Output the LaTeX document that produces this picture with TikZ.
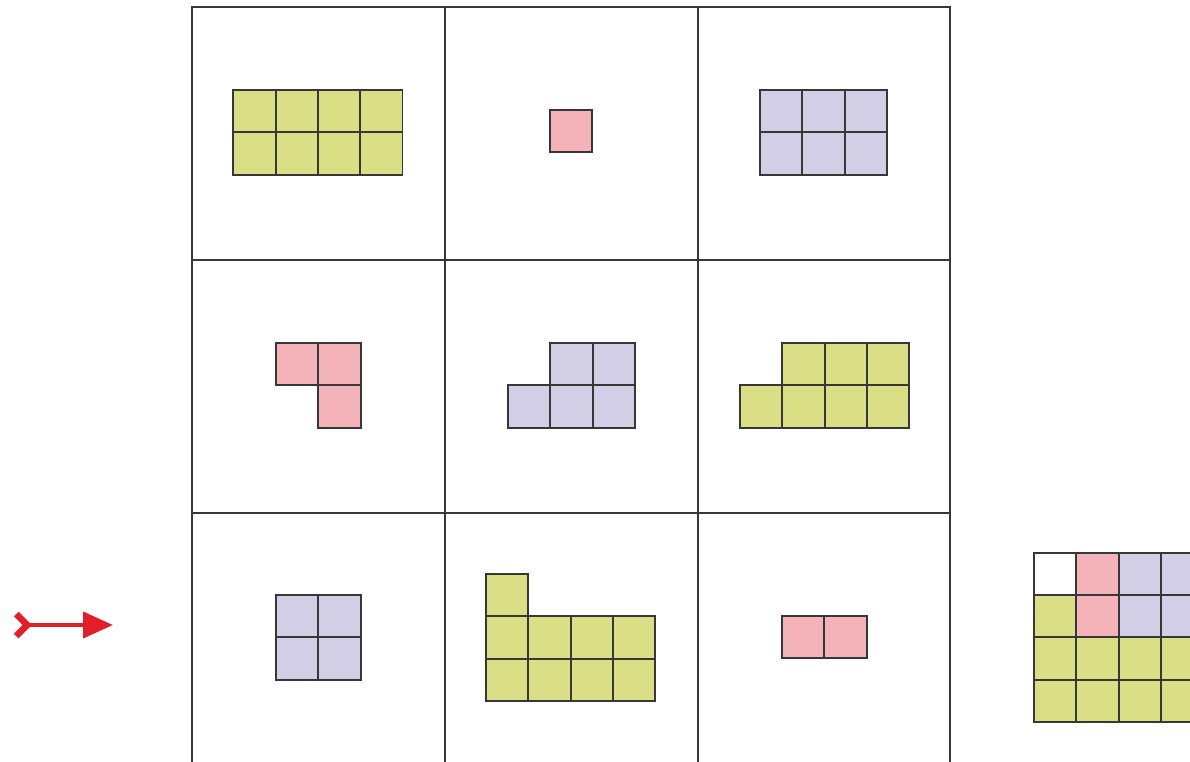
\documentclass[tikz,border=0pt]{standalone}
\usetikzlibrary{arrows.meta}
\definecolor{pgreen}{RGB}{218,223,133}
\definecolor{ppink}{RGB}{243,179,184}
\definecolor{ppurple}{RGB}{209,206,229}
\definecolor{linegray}{RGB}{55,55,55}
\definecolor{arrowred}{RGB}{226,30,38}
\newcommand\tilegroup[4]{%
  \foreach \i/\j in {#4} \draw[tile=#3] ({#1+\i*\s},{#2+\j*\s}) rectangle ++(\s,\s);}
\begin{document}
\begin{tikzpicture}[x=1pt,y=-1pt,
  tile/.style={draw=linegray,line width=1.8pt,fill=#1},
  gridline/.style={draw=linegray,line width=2pt},
  redarrow/.style={draw=arrowred,line width=4pt,
    {Straight Barb[reversed,length=11pt,width=22pt,line width=6.5pt,color=arrowred]}-{Triangle[length=30pt,width=26pt,color=arrowred]}}]
\useasboundingbox (0,0) rectangle (1190,761);
\def\s{42.3}
% grid
\draw[gridline] (192,770) -- (192,7) -- (950.4,7) -- (950.4,770);
\draw[gridline] (444.8,7) -- (444.8,770);
\draw[gridline] (697.6,7) -- (697.6,770);
\draw[gridline] (192,259.8) -- (950.4,259.8);
\draw[gridline] (192,512.6) -- (950.4,512.6);
% row 1
\tilegroup{233.3}{90}{pgreen}{0/0,1/0,2/0,3/0,0/1,1/1,2/1,3/1}
\tilegroup{550}{110}{ppink}{0/0}
\tilegroup{760}{90}{ppurple}{0/0,1/0,2/0,0/1,1/1,2/1}
% row 2
\tilegroup{276}{343}{ppink}{0/0,1/0,1/1}
\tilegroup{508}{343}{ppurple}{1/0,2/0,0/1,1/1,2/1}
\tilegroup{740}{343}{pgreen}{1/0,2/0,3/0,0/1,1/1,2/1,3/1}
% row 3
\tilegroup{276}{595}{ppurple}{0/0,1/0,0/1,1/1}
\tilegroup{486}{574}{pgreen}{0/0,0/1,1/1,2/1,3/1,0/2,1/2,2/2,3/2}
\tilegroup{782}{616}{ppink}{0/0,1/0}
% right figure
\tilegroup{1034}{552.7}{white}{0/0}
\tilegroup{1034}{552.7}{ppink}{1/0,1/1}
\tilegroup{1034}{552.7}{ppurple}{2/0,3/0,2/1,3/1}
\tilegroup{1034}{552.7}{pgreen}{0/1,0/2,1/2,2/2,3/2,0/3,1/3,2/3,3/3}
% arrow
\coordinate (arrowtail) at (13,625);
\coordinate (arrowtip) at (113,625);
\draw[redarrow] (arrowtail) -- (arrowtip);
\end{tikzpicture}
\end{document}
